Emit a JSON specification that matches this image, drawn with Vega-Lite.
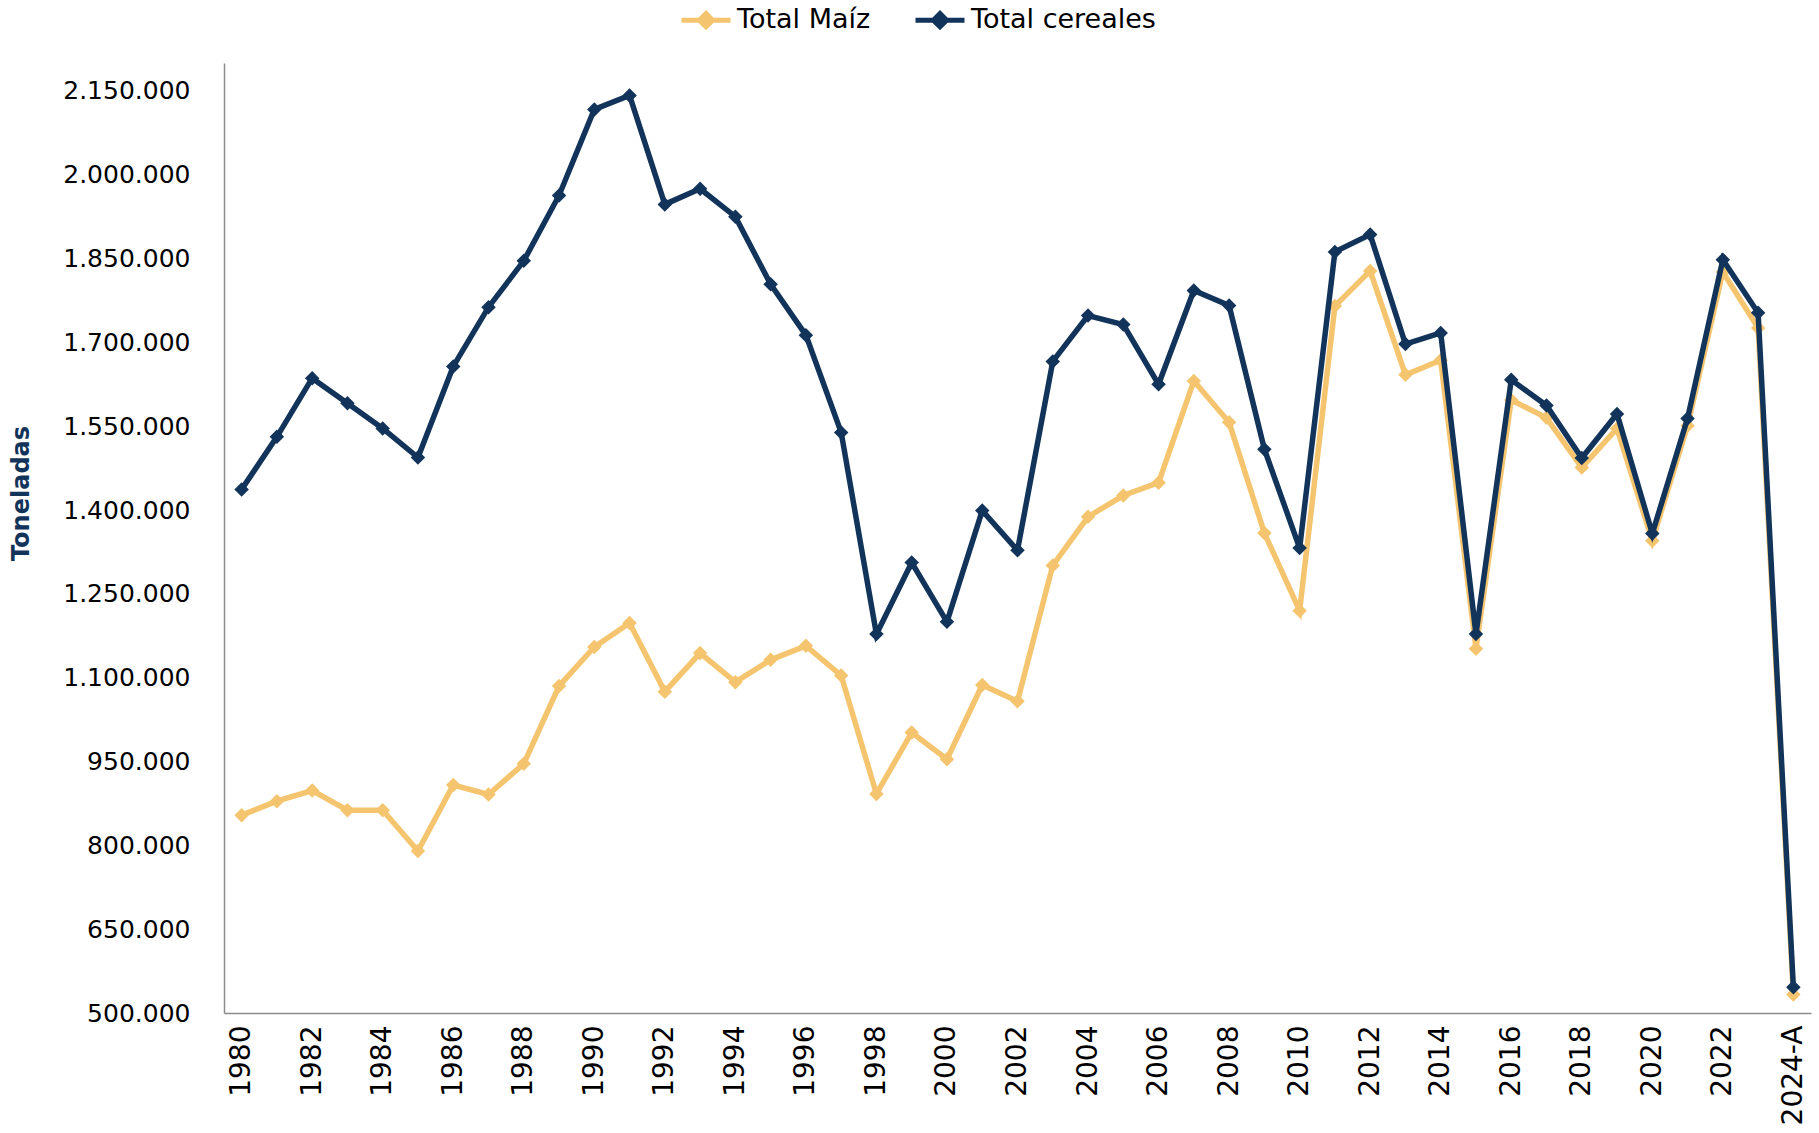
{
  "$schema": "https://vega.github.io/schema/vega-lite/v6.json",
  "width": 1587,
  "height": 950,
  "autosize": {"type": "none"},
  "padding": {"left": 224, "top": 63, "right": 8, "bottom": 120},
  "background": "white",
  "config": {
    "view": {"stroke": null},
    "font": "DejaVu Sans",
    "locale": {"number": {"decimal": ",", "thousands": ".", "grouping": [3], "currency": ["", ""]}}
  },
  "data": {"values": [
    {"year": "1980", "serie": "Total Maíz", "value": 854000}, {"year": "1980", "serie": "Total cereales", "value": 1437000},
    {"year": "1981", "serie": "Total Maíz", "value": 879000}, {"year": "1981", "serie": "Total cereales", "value": 1531000},
    {"year": "1982", "serie": "Total Maíz", "value": 898000}, {"year": "1982", "serie": "Total cereales", "value": 1636000},
    {"year": "1983", "serie": "Total Maíz", "value": 863000}, {"year": "1983", "serie": "Total cereales", "value": 1591000},
    {"year": "1984", "serie": "Total Maíz", "value": 863000}, {"year": "1984", "serie": "Total cereales", "value": 1546000},
    {"year": "1985", "serie": "Total Maíz", "value": 790000}, {"year": "1985", "serie": "Total cereales", "value": 1494000},
    {"year": "1986", "serie": "Total Maíz", "value": 908000}, {"year": "1986", "serie": "Total cereales", "value": 1657000},
    {"year": "1987", "serie": "Total Maíz", "value": 891000}, {"year": "1987", "serie": "Total cereales", "value": 1763000},
    {"year": "1988", "serie": "Total Maíz", "value": 946000}, {"year": "1988", "serie": "Total cereales", "value": 1846000},
    {"year": "1989", "serie": "Total Maíz", "value": 1085000}, {"year": "1989", "serie": "Total cereales", "value": 1963000},
    {"year": "1990", "serie": "Total Maíz", "value": 1155000}, {"year": "1990", "serie": "Total cereales", "value": 2117000},
    {"year": "1991", "serie": "Total Maíz", "value": 1198000}, {"year": "1991", "serie": "Total cereales", "value": 2142000},
    {"year": "1992", "serie": "Total Maíz", "value": 1075000}, {"year": "1992", "serie": "Total cereales", "value": 1947000},
    {"year": "1993", "serie": "Total Maíz", "value": 1144000}, {"year": "1993", "serie": "Total cereales", "value": 1975000},
    {"year": "1994", "serie": "Total Maíz", "value": 1092000}, {"year": "1994", "serie": "Total cereales", "value": 1925000},
    {"year": "1995", "serie": "Total Maíz", "value": 1132000}, {"year": "1995", "serie": "Total cereales", "value": 1804000},
    {"year": "1996", "serie": "Total Maíz", "value": 1157000}, {"year": "1996", "serie": "Total cereales", "value": 1713000},
    {"year": "1997", "serie": "Total Maíz", "value": 1104000}, {"year": "1997", "serie": "Total cereales", "value": 1539000},
    {"year": "1998", "serie": "Total Maíz", "value": 892000}, {"year": "1998", "serie": "Total cereales", "value": 1178000},
    {"year": "1999", "serie": "Total Maíz", "value": 1002000}, {"year": "1999", "serie": "Total cereales", "value": 1306000},
    {"year": "2000", "serie": "Total Maíz", "value": 954000}, {"year": "2000", "serie": "Total cereales", "value": 1200000},
    {"year": "2001", "serie": "Total Maíz", "value": 1087000}, {"year": "2001", "serie": "Total cereales", "value": 1399000},
    {"year": "2002", "serie": "Total Maíz", "value": 1058000}, {"year": "2002", "serie": "Total cereales", "value": 1328000},
    {"year": "2003", "serie": "Total Maíz", "value": 1301000}, {"year": "2003", "serie": "Total cereales", "value": 1666000},
    {"year": "2004", "serie": "Total Maíz", "value": 1388000}, {"year": "2004", "serie": "Total cereales", "value": 1748000},
    {"year": "2005", "serie": "Total Maíz", "value": 1426000}, {"year": "2005", "serie": "Total cereales", "value": 1732000},
    {"year": "2006", "serie": "Total Maíz", "value": 1449000}, {"year": "2006", "serie": "Total cereales", "value": 1625000},
    {"year": "2007", "serie": "Total Maíz", "value": 1631000}, {"year": "2007", "serie": "Total cereales", "value": 1793000},
    {"year": "2008", "serie": "Total Maíz", "value": 1557000}, {"year": "2008", "serie": "Total cereales", "value": 1766000},
    {"year": "2009", "serie": "Total Maíz", "value": 1359000}, {"year": "2009", "serie": "Total cereales", "value": 1509000},
    {"year": "2010", "serie": "Total Maíz", "value": 1220000}, {"year": "2010", "serie": "Total cereales", "value": 1332000},
    {"year": "2011", "serie": "Total Maíz", "value": 1765000}, {"year": "2011", "serie": "Total cereales", "value": 1862000},
    {"year": "2012", "serie": "Total Maíz", "value": 1828000}, {"year": "2012", "serie": "Total cereales", "value": 1893000},
    {"year": "2013", "serie": "Total Maíz", "value": 1642000}, {"year": "2013", "serie": "Total cereales", "value": 1697000},
    {"year": "2014", "serie": "Total Maíz", "value": 1668000}, {"year": "2014", "serie": "Total cereales", "value": 1717000},
    {"year": "2015", "serie": "Total Maíz", "value": 1152000}, {"year": "2015", "serie": "Total cereales", "value": 1178000},
    {"year": "2016", "serie": "Total Maíz", "value": 1597000}, {"year": "2016", "serie": "Total cereales", "value": 1633000},
    {"year": "2017", "serie": "Total Maíz", "value": 1565000}, {"year": "2017", "serie": "Total cereales", "value": 1587000},
    {"year": "2018", "serie": "Total Maíz", "value": 1476000}, {"year": "2018", "serie": "Total cereales", "value": 1493000},
    {"year": "2019", "serie": "Total Maíz", "value": 1546000}, {"year": "2019", "serie": "Total cereales", "value": 1572000},
    {"year": "2020", "serie": "Total Maíz", "value": 1345000}, {"year": "2020", "serie": "Total cereales", "value": 1358000},
    {"year": "2021", "serie": "Total Maíz", "value": 1551000}, {"year": "2021", "serie": "Total cereales", "value": 1564000},
    {"year": "2022", "serie": "Total Maíz", "value": 1826000}, {"year": "2022", "serie": "Total cereales", "value": 1848000},
    {"year": "2023", "serie": "Total Maíz", "value": 1726000}, {"year": "2023", "serie": "Total cereales", "value": 1753000},
    {"year": "2024-A", "serie": "Total Maíz", "value": 533000}, {"year": "2024-A", "serie": "Total cereales", "value": 546000}
  ]},
  "encoding": {
    "x": {
      "field": "year", "type": "ordinal", "sort": null,
      "scale": {"type": "point", "padding": 0.5},
      "axis": {
        "title": null,
        "values": ["1980","1982","1984","1986","1988","1990","1992","1994","1996","1998","2000","2002","2004","2006","2008","2010","2012","2014","2016","2018","2020","2022","2024-A"],
        "labelAngle": -90, "labelAlign": "right", "labelBaseline": "middle",
        "labelFontSize": 28, "labelColor": "#000000", "labelPadding": 12,
        "ticks": false, "tickSize": 0, "domainColor": "#8c8c8c", "domainWidth": 1.5, "grid": false
      }
    },
    "y": {
      "field": "value", "type": "quantitative",
      "scale": {"domain": [500000, 2200000], "nice": false, "zero": false},
      "axis": {
        "title": "Toneladas", "titleFontSize": 24, "titleFontWeight": "bold", "titleColor": "#12345A",
        "titleX": -203, "titleY": 430, "titleAngle": -90, "titleAlign": "center", "titleBaseline": "middle",
        "values": [500000,650000,800000,950000,1100000,1250000,1400000,1550000,1700000,1850000,2000000,2150000],
        "format": ",d", "labelFontSize": 25, "labelColor": "#000000", "labelPadding": 34,
        "ticks": false, "tickSize": 0, "domainColor": "#8c8c8c", "domainWidth": 1.5, "grid": false
      }
    },
    "color": {
      "field": "serie", "type": "nominal",
      "scale": {"domain": ["Total Maíz", "Total cereales"], "range": ["#F5C46E", "#12345A"]},
      "legend": {
        "title": null, "orient": "none", "legendX": 455, "legendY": -70, "direction": "horizontal",
        "labelFontSize": 27, "labelColor": "#000000", "labelOffset": 4, "columnPadding": 34, "labelLimit": 500,
        "symbolType": "M-1,0H1M0,-0.27L0.27,0L0,0.27L-0.27,0Z", "symbolSize": 2400, "symbolStrokeWidth": 5,
        "encode": {"symbols": {"update": {"fill": {"scale": "color", "field": "value"}, "stroke": {"scale": "color", "field": "value"}, "opacity": {"value": 1}}}}
      }
    }
  },
  "layer": [
    {
      "transform": [{"filter": "datum.serie === 'Total Maíz'"}],
      "mark": {"type": "line", "strokeWidth": 5.5, "point": {"shape": "diamond", "size": 210, "filled": true, "opacity": 1}}
    },
    {
      "transform": [{"filter": "datum.serie === 'Total cereales'"}],
      "mark": {"type": "line", "strokeWidth": 5.5, "point": {"shape": "diamond", "size": 210, "filled": true, "opacity": 1}}
    }
  ]
}
